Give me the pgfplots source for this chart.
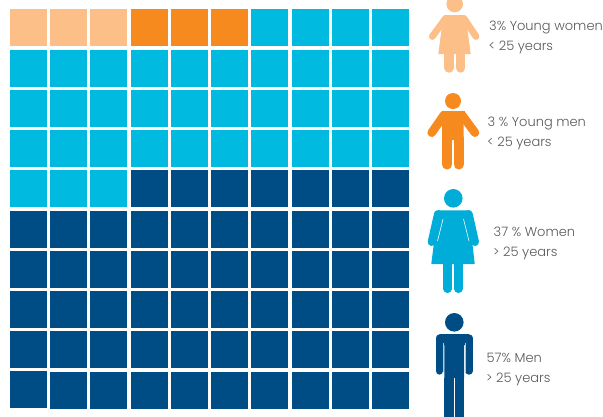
\documentclass[border=0pt]{standalone}
\usepackage{pgfplots}
\pgfplotsset{compat=1.18}
\usepackage{fontspec}
\setmainfont{Poppins Light}
\definecolor{peach}{HTML}{FDBF88}
\definecolor{orng}{HTML}{F68A1F}
\definecolor{cyanb}{HTML}{00BAE0}
\definecolor{navy}{HTML}{004C84}
\definecolor{icy}{HTML}{00ADD8}
\definecolor{txt}{HTML}{595959}
\newcommand\lab[3]{\node[anchor=base west,text=txt,font=\fontsize{13}{15}\selectfont,inner sep=0pt] at (axis cs:#1,#2) {#3};}
\begin{document}
\begin{tikzpicture}
\useasboundingbox (0,0) rectangle (603pt,416pt);
\begin{axis}[scale only axis,width=603pt,height=416pt,xmin=0,xmax=603,ymin=0,ymax=416,y dir=reverse,hide axis,clip=true]
\pgfplotsset{cell/.style={only marks,mark=square*,mark size=18.2pt,mark options={draw=none,line width=0pt,color=#1,fill=#1}}}
\addplot[cell=peach] coordinates {(28.5,27.5)(68.5,27.5)(108.5,27.5)};
\addplot[cell=orng] coordinates {(149.5,27.5)(189.5,27.5)(229.5,27.5)};
\addplot[cell=cyanb] coordinates {
(269.5,27.5)(310.5,27.5)(350.5,27.5)(390.5,27.5)
(28.5,68.5)(68.5,68.5)(108.5,68.5)(149.5,68.5)(189.5,68.5)(229.5,68.5)(269.5,68.5)(310.5,68.5)(350.5,68.5)(390.5,68.5)
(28.5,108.5)(68.5,108.5)(108.5,108.5)(149.5,108.5)(189.5,108.5)(229.5,108.5)(269.5,108.5)(310.5,108.5)(350.5,108.5)(390.5,108.5)
(28.5,148.5)(68.5,148.5)(108.5,148.5)(149.5,148.5)(189.5,148.5)(229.5,148.5)(269.5,148.5)(310.5,148.5)(350.5,148.5)(390.5,148.5)
(28.5,188.5)(68.5,188.5)(108.5,188.5)};
\addplot[cell=navy] coordinates {
(149.5,188.5)(189.5,188.5)(229.5,188.5)(269.5,188.5)(310.5,188.5)(350.5,188.5)(390.5,188.5)
(28.5,229.5)(68.5,229.5)(108.5,229.5)(149.5,229.5)(189.5,229.5)(229.5,229.5)(269.5,229.5)(310.5,229.5)(350.5,229.5)(390.5,229.5)
(28.5,269.5)(68.5,269.5)(108.5,269.5)(149.5,269.5)(189.5,269.5)(229.5,269.5)(269.5,269.5)(310.5,269.5)(350.5,269.5)(390.5,269.5)
(28.5,309.5)(68.5,309.5)(108.5,309.5)(149.5,309.5)(189.5,309.5)(229.5,309.5)(269.5,309.5)(310.5,309.5)(350.5,309.5)(390.5,309.5)
(28.5,349.5)(68.5,349.5)(108.5,349.5)(149.5,349.5)(189.5,349.5)(229.5,349.5)(269.5,349.5)(310.5,349.5)(350.5,349.5)(390.5,349.5)
(28.5,389.5)(68.5,390.5)(108.5,390.5)(149.5,390.5)(189.5,390.5)(229.5,390.5)(269.5,390.5)(310.5,390.5)(350.5,390.5)(390.5,390.5)};
% young woman
\fill[peach] (axis cs:454.7,4) circle[radius=8.3pt];
\fill[peach] (axis cs:444.3,15) -- (axis cs:465,15) -- (axis cs:466,18) -- (axis cs:470.7,54) -- (axis cs:438.3,54) -- (axis cs:443,18) -- cycle;
\draw[peach,line width=6.8pt,line cap=round] (axis cs:445.5,18.5) -- (axis cs:432.3,36.5);
\draw[peach,line width=6.8pt,line cap=round] (axis cs:464,18.5) -- (axis cs:476,36.5);
\draw[peach,line width=9.4pt,line cap=round] (axis cs:449,54) -- (axis cs:449,68);
\draw[peach,line width=9.4pt,line cap=round] (axis cs:460.7,54) -- (axis cs:460.7,68);
% young man
\fill[orng] (axis cs:453,101) circle[radius=8pt];
\fill[orng] (axis cs:441.5,111) -- (axis cs:465,111) -- (axis cs:463.7,118) -- (axis cs:463.7,140) -- (axis cs:442,140) -- (axis cs:442,118) -- cycle;
\draw[orng,line width=8.6pt,line cap=round] (axis cs:444,115) -- (axis cs:431.7,132.7);
\draw[orng,line width=8.6pt,line cap=round] (axis cs:462,115) -- (axis cs:475,132.7);
\draw[orng,line width=10pt,line cap=round] (axis cs:447,138) -- (axis cs:447,164.5);
\draw[orng,line width=10pt,line cap=round] (axis cs:458.7,138) -- (axis cs:458.7,164.5);
% woman
\fill[icy] (axis cs:453.3,198.3) circle[radius=9.3pt];
\fill[icy] (axis cs:438,210.3) -- (axis cs:468.7,210.3) -- (axis cs:474.7,264) -- (axis cs:431.3,264) -- cycle;
\draw[icy,line width=8pt,line cap=round] (axis cs:438,214) -- (axis cs:431.7,242);
\draw[icy,line width=8pt,line cap=round] (axis cs:468.7,214) -- (axis cs:475,242);
\draw[white,line width=0.6pt] (axis cs:443,219) -- (axis cs:437.5,241);
\draw[white,line width=0.6pt] (axis cs:463.5,219) -- (axis cs:469,241);
\draw[icy,line width=8.7pt,line cap=round] (axis cs:447.7,262) -- (axis cs:447.7,288.7);
\draw[icy,line width=8.7pt,line cap=round] (axis cs:458.3,262) -- (axis cs:458.3,288.7);
% man
\fill[navy] (axis cs:454.3,322.3) circle[radius=9.3pt];
\draw[navy,line width=7.4pt,line cap=round] (axis cs:439.5,338) -- (axis cs:439.5,371);
\draw[navy,line width=7.4pt,line cap=round] (axis cs:468.9,338) -- (axis cs:468.9,371);
\fill[navy] (axis cs:439.5,334) -- (axis cs:468.9,334) -- (axis cs:468.9,345) -- (axis cs:464.2,345) -- (axis cs:464.2,378) -- (axis cs:444.3,378) -- (axis cs:444.3,345) -- (axis cs:439.5,345) -- cycle;
\fill[navy] (axis cs:444.3,378) rectangle (axis cs:453.6,418);
\fill[navy] (axis cs:455,378) rectangle (axis cs:464.2,418);
\draw[white!70!navy,line width=0.6pt] (axis cs:443.5,343) -- (axis cs:443.5,372);
\draw[white!70!navy,line width=0.6pt] (axis cs:465,343) -- (axis cs:465,372);
% labels
\lab{489}{30}{3\% Young women}
\lab{488.5}{50}{< 25 years}
\lab{487.5}{126}{3 \% Young men}
\lab{487}{146}{< 25 years}
\lab{493.5}{236}{37 \% Women}
\lab{493}{256}{> 25 years}
\lab{486.5}{362}{57\% Men}
\lab{486}{382}{> 25 years}
\end{axis}
\end{tikzpicture}
\end{document}
